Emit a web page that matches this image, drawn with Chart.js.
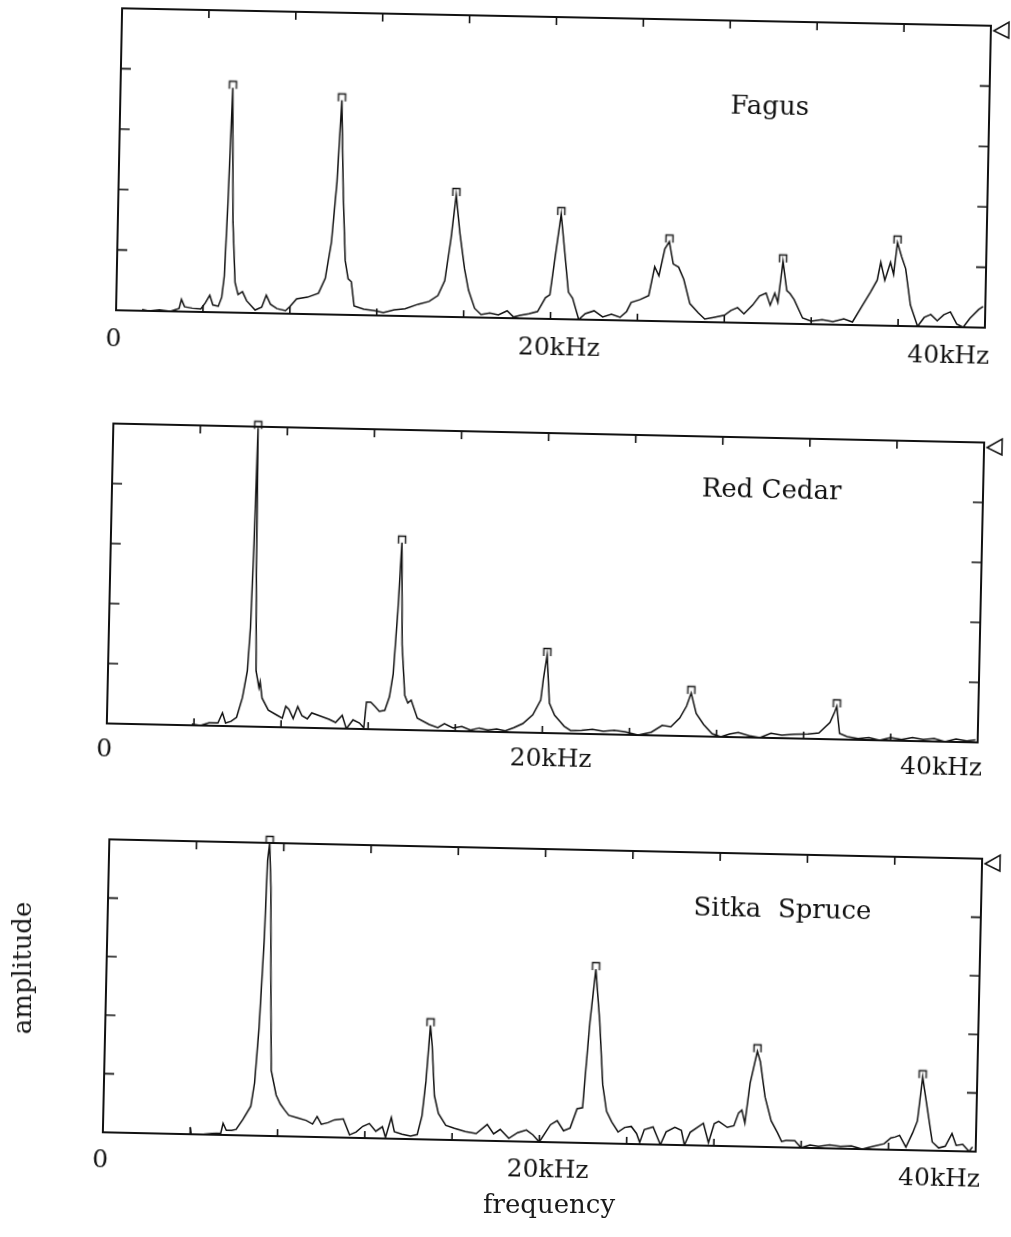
<!DOCTYPE html>
<html lang="en">
<head>
<meta charset="UTF-8">
<title>Resonance spectra</title>
<script src="https://cdn.jsdelivr.net/npm/chart.js"></script>
<style>
    body {
        margin: 0;
        background: #ffffff;
        width: 1011px;
        height: 1237px;
        overflow: hidden;
        position: relative;
        font-family: "DejaVu Serif", serif;
    }
    canvas.panel {
        position: absolute;
    }
    .axis-title {
        position: absolute;
        font-size: 26px;
        line-height: 30px;
        color: #1a1a1a;
        white-space: nowrap;
    }
    #ytitle {
        left: 22px;
        top: 968px;
        transform: translate(-50%, -50%) rotate(-90deg);
    }
    #xtitle {
        left: 549px;
        top: 1204px;
        transform: translate(-50%, -50%);
    }
</style>
</head>
<body>

<canvas id="fagusChart" class="panel"></canvas>
<canvas id="cedarChart" class="panel"></canvas>
<canvas id="spruceChart" class="panel"></canvas>
<div id="ytitle" class="axis-title">amplitude</div>
<div id="xtitle" class="axis-title">frequency</div>

<script>
    // frequency axis labels (kHz)
    const xLabelValues = [0, 20, 40];
    const xLabelTexts = ['0', '20kHz', '40kHz'];

    // Fagus spectrum (kHz, relative amplitude)
    const fagusFreq = [1.2, 1.5, 2.0, 2.5, 2.9, 3.0, 3.15, 3.5, 3.9, 4.1, 4.3, 4.45, 4.7, 4.85, 4.95, 5.05, 5.17, 5.3, 5.45, 5.6,
        5.8, 6.0, 6.4, 6.7, 6.9, 7.1, 7.4, 7.8, 8.0, 8.3, 8.8, 9.3, 9.6, 9.85, 10.05, 10.2, 10.35, 10.5, 10.65, 10.8,
        10.95, 11.4, 11.9, 12.3, 12.8, 13.3, 13.9, 14.4, 14.8, 15.1, 15.35, 15.55, 15.75, 16.0, 16.2, 16.5, 16.8, 17.2, 17.6, 18.0,
        18.3, 18.6, 19.0, 19.4, 19.75, 19.95, 20.15, 20.4, 20.6, 20.8, 21.0, 21.3, 21.6, 22.0, 22.4, 22.8, 23.2, 23.5, 23.7, 24.1,
        24.5, 24.75, 24.95, 25.2, 25.4, 25.6, 25.85, 26.1, 26.4, 26.8, 27.1, 27.5, 28.0, 28.3, 28.6, 28.9, 29.3, 29.6, 29.9, 30.1,
        30.3, 30.45, 30.65, 30.85, 31.0, 31.2, 31.6, 32.0, 32.5, 33.0, 33.5, 33.9, 34.3, 34.7, 35.0, 35.15, 35.35, 35.6, 35.75, 35.9,
        36.1, 36.3, 36.55, 36.9, 37.2, 37.5, 37.8, 38.1, 38.4, 38.7, 39.0, 39.3, 39.7, 39.9];
    const fagusAmp = [0.02, 0.0, 0.02, 0.0, 0.05, 0.2, 0.08, 0.06, 0.05, 0.15, 0.28, 0.12, 0.1, 0.25, 0.6, 1.8, 3.72, 1.5, 0.5, 0.3,
        0.35, 0.2, 0.05, 0.1, 0.3, 0.15, 0.08, 0.05, 0.12, 0.25, 0.28, 0.35, 0.6, 1.2, 2.2, 3.55, 2.0, 0.9, 0.6, 0.55,
        0.15, 0.1, 0.08, 0.05, 0.1, 0.12, 0.2, 0.25, 0.35, 0.6, 1.3, 2.02, 1.4, 0.8, 0.45, 0.15, 0.05, 0.08, 0.05, 0.12,
        0.02, 0.05, 0.08, 0.12, 0.35, 0.4, 1.0, 1.74, 1.1, 0.45, 0.35, 0.0, 0.1, 0.15, 0.05, 0.1, 0.05, 0.15, 0.3, 0.35,
        0.42, 0.9, 0.75, 1.2, 1.32, 0.95, 0.9, 0.7, 0.3, 0.15, 0.05, 0.08, 0.12, 0.2, 0.25, 0.15, 0.3, 0.45, 0.5, 0.3,
        0.5, 0.35, 1.03, 0.55, 0.5, 0.4, 0.1, 0.05, 0.08, 0.05, 0.1, 0.05, 0.3, 0.55, 0.75, 1.05, 0.75, 1.05, 0.85, 1.38,
        1.15, 0.95, 0.35, 0.0, 0.15, 0.2, 0.1, 0.2, 0.25, 0.05, 0.0, 0.15, 0.3, 0.35];
    const fagusPeakFreq = [5.17, 10.2, 15.55, 20.4, 25.4, 30.65, 35.9];
    const fagusPeakAmp = [3.72, 3.55, 2.02, 1.74, 1.32, 1.03, 1.38];

    // Red Cedar spectrum
    const cedarFreq = [3.9, 4.3, 4.7, 5.1, 5.3, 5.45, 5.7, 5.95, 6.2, 6.4, 6.5, 6.58, 6.65, 6.72, 6.8, 6.95, 7.0, 7.1, 7.4, 7.8,
        8.05, 8.2, 8.35, 8.55, 8.75, 8.95, 9.2, 9.4, 9.8, 10.2, 10.5, 10.8, 11.0, 11.3, 11.6, 11.8, 11.9, 12.1, 12.3, 12.5,
        12.75, 12.95, 13.1, 13.25, 13.37, 13.48, 13.65, 13.8, 13.95, 14.25, 14.8, 15.2, 15.5, 15.9, 16.3, 16.7, 17.1, 17.5, 17.9, 18.3,
        18.7, 19.1, 19.55, 19.9, 20.0, 20.15, 20.3, 20.55, 20.8, 21.0, 21.3, 21.8, 22.3, 22.8, 23.3, 23.8, 24.4, 25.0, 25.5, 25.9,
        26.3, 26.6, 26.8, 27.05, 27.4, 27.8, 28.2, 28.6, 29.0, 29.5, 30.0, 30.5, 31.0, 31.6, 32.2, 32.7, 33.2, 33.4, 33.5, 33.65,
        34.0, 34.5, 35.0, 35.5, 36.0, 36.5, 37.0, 37.5, 38.0, 38.5, 39.0, 39.5, 39.9];
    const cedarAmp = [0.02, 0.0, 0.05, 0.05, 0.22, 0.05, 0.08, 0.15, 0.48, 0.93, 1.65, 3.05, 4.98, 2.5, 0.93, 0.65, 0.75, 0.48, 0.28, 0.2,
        0.15, 0.35, 0.3, 0.15, 0.35, 0.2, 0.15, 0.25, 0.2, 0.15, 0.1, 0.22, 0.0, 0.15, 0.1, 0.02, 0.45, 0.45, 0.38, 0.3,
        0.32, 0.55, 0.93, 1.98, 3.12, 1.42, 0.58, 0.45, 0.5, 0.2, 0.1, 0.05, 0.12, 0.05, 0.08, 0.02, 0.06, 0.03, 0.05, 0.02,
        0.08, 0.15, 0.3, 0.55, 0.9, 1.3, 0.5, 0.3, 0.2, 0.12, 0.05, 0.06, 0.08, 0.05, 0.07, 0.05, 0.0, 0.05, 0.17, 0.15,
        0.3, 0.5, 0.72, 0.38, 0.2, 0.05, 0.0, 0.05, 0.08, 0.03, 0.0, 0.08, 0.05, 0.07, 0.08, 0.1, 0.28, 0.45, 0.55, 0.1,
        0.05, 0.02, 0.04, 0.0, 0.05, 0.02, 0.06, 0.03, 0.05, 0.0, 0.05, 0.02, 0.04];
    const cedarPeakFreq = [6.65, 13.37, 20.15, 26.8, 33.5];
    const cedarPeakAmp = [4.98, 3.12, 1.3, 0.72, 0.55];

    // Sitka Spruce spectrum
    const spruceFreq = [4.0, 4.05, 4.5, 5.0, 5.4, 5.5, 5.65, 5.9, 6.1, 6.4, 6.75, 6.9, 7.05, 7.2, 7.27, 7.35, 7.45, 7.55, 7.65, 7.9,
        8.1, 8.3, 8.5, 8.9, 9.3, 9.6, 9.8, 10.0, 10.3, 10.6, 11.0, 11.3, 11.6, 11.9, 12.2, 12.5, 12.8, 12.95, 13.2, 13.35,
        13.7, 14.1, 14.4, 14.6, 14.75, 14.9, 15.0, 15.15, 15.35, 15.7, 16.1, 16.6, 17.1, 17.6, 17.9, 18.2, 18.6, 19.0, 19.4, 19.7,
        20.0, 20.5, 20.8, 21.1, 21.4, 21.7, 21.95, 22.05, 22.2, 22.42, 22.65, 22.85, 23.05, 23.3, 23.6, 23.9, 24.2, 24.45, 24.6, 24.8,
        25.2, 25.55, 25.8, 26.2, 26.5, 26.65, 26.9, 27.2, 27.5, 27.75, 28.0, 28.2, 28.6, 28.9, 29.1, 29.25, 29.4, 29.6, 29.9, 30.05,
        30.3, 30.6, 30.9, 31.1, 31.3, 31.7, 32.0, 32.4, 32.8, 33.3, 33.8, 34.3, 34.8, 35.3, 35.8, 36.1, 36.3, 36.5, 36.8, 37.1,
        37.3, 37.5, 37.75, 38.0, 38.3, 38.6, 38.9, 39.1, 39.4, 39.7, 39.85];
    const spruceAmp = [0.12, 0.0, 0.0, 0.02, 0.03, 0.2, 0.08, 0.08, 0.1, 0.27, 0.5, 0.9, 1.85, 3.38, 4.7, 5.0, 4.24, 2.55, 1.12, 0.7,
        0.55, 0.45, 0.36, 0.32, 0.28, 0.22, 0.35, 0.22, 0.25, 0.3, 0.32, 0.05, 0.1, 0.2, 0.25, 0.12, 0.2, 0.02, 0.36, 0.12,
        0.08, 0.05, 0.08, 0.4, 1.0, 1.95, 1.6, 0.75, 0.45, 0.25, 0.2, 0.15, 0.12, 0.28, 0.12, 0.2, 0.05, 0.15, 0.2, 0.12,
        0.0, 0.3, 0.37, 0.2, 0.25, 0.58, 0.6, 1.2, 2.06, 2.97, 2.07, 1.0, 0.55, 0.37, 0.2, 0.28, 0.3, 0.18, 0.03, 0.25,
        0.3, 0.0, 0.22, 0.3, 0.25, 0.0, 0.22, 0.3, 0.38, 0.05, 0.38, 0.42, 0.32, 0.35, 0.57, 0.62, 0.4, 1.08, 1.63, 1.45,
        0.85, 0.45, 0.25, 0.1, 0.12, 0.12, 0.0, 0.05, 0.03, 0.06, 0.04, 0.05, 0.0, 0.05, 0.1, 0.2, 0.22, 0.25, 0.05, 0.3,
        0.5, 1.25, 0.7, 0.15, 0.05, 0.08, 0.3, 0.1, 0.12, 0.0, 0.08];
    const sprucePeakFreq = [7.35, 14.9, 22.42, 29.9, 37.5];
    const sprucePeakAmp = [5.0, 1.95, 2.97, 1.63, 1.25];

    // page placement of each plot box (the scan is slightly tilted)
    const pad = { left: 65, right: 65, top: 45, bottom: 65 };
    const panels = [
        { id: 'fagusChart', name: 'Fagus', freq: fagusFreq, amp: fagusAmp, pf: fagusPeakFreq, pa: fagusPeakAmp,
          cx: 553.5, cy: 167.75, w: 869, h: 302, angle: 1.15, tx: 215, ty: -65, ly: 29 },
        { id: 'cedarChart', name: 'Red Cedar', freq: cedarFreq, amp: cedarAmp, pf: cedarPeakFreq, pa: cedarPeakAmp,
          cx: 545.2, cy: 582.5, w: 871, h: 300, angle: 1.25, tx: 224, ty: -97, ly: 26 },
        { id: 'spruceChart', name: 'Sitka  Spruce', freq: spruceFreq, amp: spruceAmp, pf: sprucePeakFreq, pa: sprucePeakAmp,
          cx: 542, cy: 995, w: 873, h: 293, angle: 1.27, tx: 238, ty: -90, ly: 28 }
    ];

    const ink = '#111111';

    // little open box drawn over each detected peak
    function makeBracket() {
        const c = document.createElement('canvas');
        c.width = 12;
        c.height = 20;
        const g = c.getContext('2d');
        g.strokeStyle = ink;
        g.lineWidth = 1.4;
        g.beginPath();
        g.moveTo(2.5, 11);
        g.lineTo(2.5, 3.5);
        g.lineTo(9.5, 3.5);
        g.lineTo(9.5, 11);
        g.stroke();
        return c;
    }
    const bracket = makeBracket();

    // frame, inward ticks, labels and the corner marker
    const framePlugin = {
        id: 'frame',
        afterDatasetsDraw(chart) {
            const { ctx, chartArea: a, scales: { x, y } } = chart;
            const p = chart.options.plugins.frame;
            ctx.save();
            ctx.strokeStyle = ink;
            ctx.fillStyle = ink;
            ctx.lineWidth = 2;
            ctx.strokeRect(a.left, a.top, a.width, a.height);

            ctx.lineWidth = 1.6;
            ctx.beginPath();
            for (let v = 4; v < 40; v += 4) {
                const px = x.getPixelForValue(v);
                ctx.moveTo(px, a.top);
                ctx.lineTo(px, a.top + 8);
                ctx.moveTo(px, a.bottom);
                ctx.lineTo(px, a.bottom - 7);
            }
            for (let v = 1; v < 5; v++) {
                const py = y.getPixelForValue(v);
                ctx.moveTo(a.left, py);
                ctx.lineTo(a.left + 10, py);
                ctx.moveTo(a.right, py);
                ctx.lineTo(a.right - 10, py);
            }
            ctx.stroke();

            // marker triangle at the top right corner
            ctx.lineWidth = 1.5;
            ctx.beginPath();
            ctx.moveTo(a.right + 3, a.top + 5);
            ctx.lineTo(a.right + 18, a.top - 4);
            ctx.lineTo(a.right + 18, a.top + 12);
            ctx.closePath();
            ctx.stroke();

            // frequency labels
            ctx.font = '25px "DejaVu Serif"';
            ctx.textBaseline = 'middle';
            const ly = a.bottom + p.ly;
            xLabelValues.forEach((v, i) => {
                const px = x.getPixelForValue(v);
                if (i === xLabelValues.length - 1) {
                    ctx.textAlign = 'right';
                    ctx.fillText(xLabelTexts[i], px + 5, ly);
                } else if (i === 0) {
                    ctx.textAlign = 'center';
                    ctx.fillText(xLabelTexts[i], px - 2, ly);
                } else {
                    ctx.textAlign = 'center';
                    ctx.fillText(xLabelTexts[i], px + 9, ly);
                }
            });

            // species name
            ctx.font = '26px "DejaVu Serif"';
            ctx.textAlign = 'center';
            ctx.fillText(p.name, (a.left + a.right) / 2 + p.tx, (a.top + a.bottom) / 2 + p.ty);
            ctx.restore();
        }
    };

    panels.forEach(panel => {
        const canvas = document.getElementById(panel.id);
        canvas.width = panel.w + pad.left + pad.right;
        canvas.height = panel.h + pad.top + pad.bottom;
        const ox = pad.left + panel.w / 2;
        const oy = pad.top + panel.h / 2;
        canvas.style.left = (panel.cx - ox) + 'px';
        canvas.style.top = (panel.cy - oy) + 'px';
        canvas.style.transformOrigin = ox + 'px ' + oy + 'px';
        canvas.style.transform = 'rotate(' + panel.angle + 'deg)';

        new Chart(canvas.getContext('2d'), {
            type: 'line',
            data: {
                datasets: [
                    {
                        data: panel.freq.map((f, i) => ({ x: f, y: panel.amp[i] })),
                        borderColor: ink,
                        borderWidth: 1.5,
                        pointRadius: 0,
                        tension: 0,
                        fill: false
                    },
                    {
                        data: panel.pf.map((f, i) => ({ x: f, y: panel.pa[i] })),
                        showLine: false,
                        pointStyle: bracket,
                        pointRadius: 6,
                        clip: false
                    }
                ]
            },
            options: {
                responsive: false,
                animation: false,
                devicePixelRatio: 1,
                layout: { padding: pad },
                scales: {
                    x: { type: 'linear', min: 0, max: 40, display: false },
                    y: { min: 0, max: 5, display: false }
                },
                plugins: {
                    legend: { display: false },
                    tooltip: { enabled: false },
                    frame: { name: panel.name, tx: panel.tx, ty: panel.ty, ly: panel.ly }
                }
            },
            plugins: [framePlugin]
        });
    });
</script>

</body>
</html>
